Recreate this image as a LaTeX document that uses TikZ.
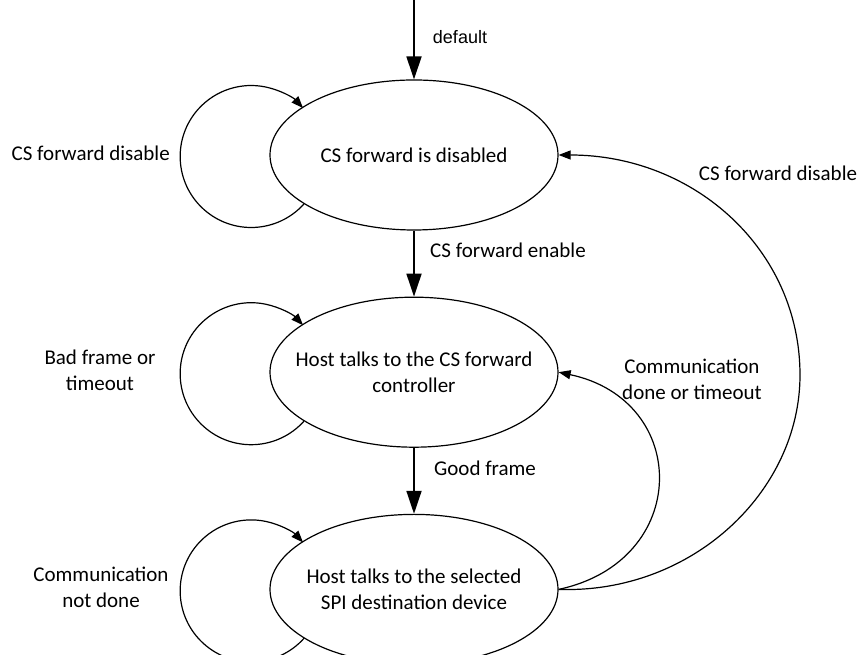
\documentclass[tikz,border=0pt]{standalone}
\usepackage{fontspec}
\setmainfont{Carlito}
\newfontfamily\arialfont{Liberation Sans}
\usetikzlibrary{arrows.meta,positioning,shapes.geometric}

\begin{document}
\begin{tikzpicture}[
  x=1pt, y=1pt,
  node distance=66pt,
  state/.style={ellipse, draw, line width=1.2pt, minimum width=288pt, minimum height=150pt, inner sep=-20pt, align=center, font=\fontsize{21}{26}\selectfont},
  lbl/.style={inner sep=0pt, align=center, font=\fontsize{21}{26}\selectfont},
  arrow/.style={-{Triangle[length=23pt, width=15pt]}, line width=1.8pt},
  back/.style={-{Triangle[length=12pt, width=9pt]}, line width=1.2pt}
]
  \useasboundingbox (0,0) rectangle (860,655);

  % States
  \node[state] (off) at (414,500) {CS forward is disabled};
  \node[state, below=of off] (ctrl) {Host talks to the CS forward\\controller};
  \node[state, below=of ctrl] (spi) {Host talks to the selected\\SPI destination device};

  % Default entry
  \coordinate (init) at (414,655);
  \draw[arrow] (init) -- (off);
  \node[lbl, font=\arialfont\fontsize{18}{22}\selectfont] (ldef) at (460,618) {default};

  % Forward path
  \draw[arrow] (off) -- (ctrl);
  \draw[arrow] (ctrl) -- (spi);
  \node[lbl] (lenable) at (508,405) {CS forward enable};
  \node[lbl] (lgood) at (485,187) {Good frame};

  % Self loops
  \draw[back] (off.204) arc[start angle=-42, end angle=-317, radius=71pt];
  \draw[back] (ctrl.204) arc[start angle=-42, end angle=-317, radius=71pt];
  \draw[back] (spi.204) arc[start angle=-42, end angle=-317, radius=71pt];
  \node[lbl, anchor=east] (ldis1) at (170,502) {CS forward disable};
  \node[lbl] (lbad) at (100,285) {Bad frame or\\timeout};
  \node[lbl] (lnot) at (101,68) {Communication\\not done};

  % Way back
  \coordinate (far) at (800,280);
  \draw[back] (spi.east) to[out=12, in=-12, looseness=1.6] (ctrl.east);
  \draw[back] (spi.east) to[out=-2, in=-90, out distance=133pt, in distance=117pt] (far)
    to[out=90, in=0, out distance=125pt, in distance=136pt] (off.east);
  \node[lbl] (ldone) at (692,276) {Communication\\done or timeout};
  \node[lbl] (ldis2) at (778,482) {CS forward disable};
\end{tikzpicture}
\end{document}
